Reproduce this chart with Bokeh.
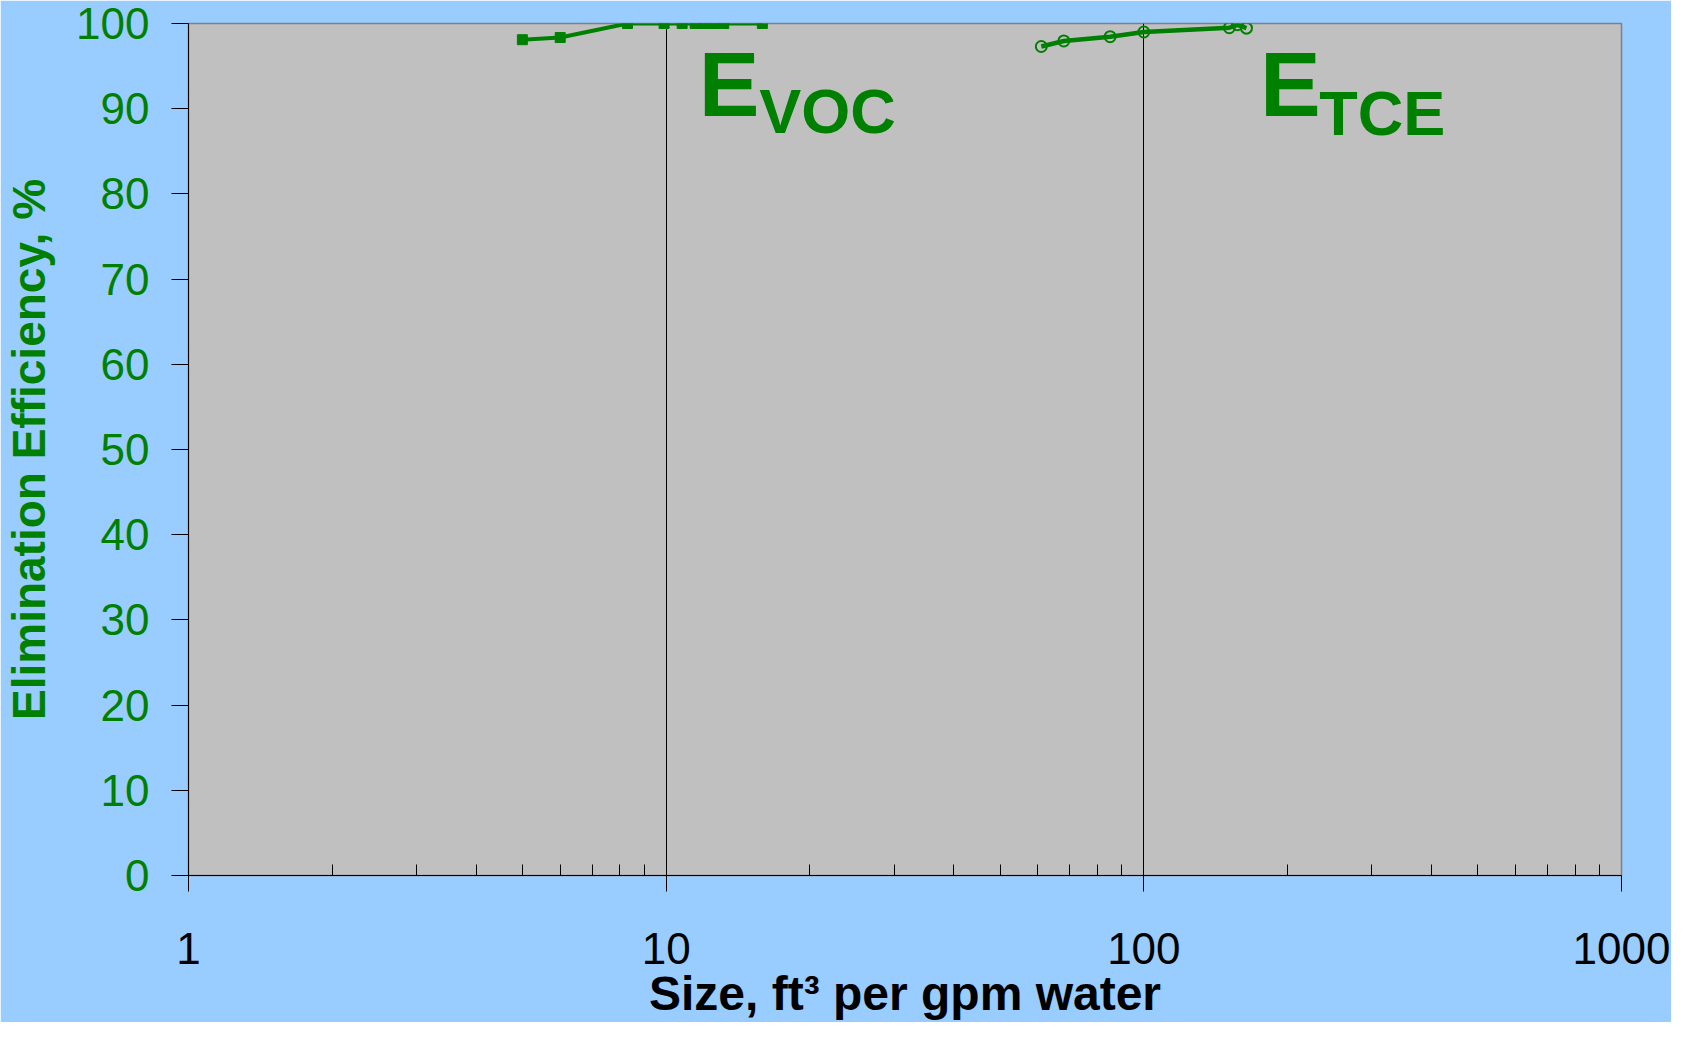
from bokeh.plotting import figure
from bokeh.models import FixedTicker, Label, Range1d, PrintfTickFormatter
from bokeh.embed import file_html
from bokeh.resources import INLINE

# ---- data ----
voc_size = [5.0, 6.0, 8.3, 9.9, 10.8, 11.5, 12.0, 12.6, 13.2, 15.9]
voc_eff = [98.1, 98.35, 100.0, 100.0, 100.0, 100.0, 100.0, 100.0, 100.0, 100.0]

tce_size = [61, 68, 85, 100, 151, 157, 164]
tce_eff = [97.3, 97.95, 98.45, 99.0, 99.5, 99.85, 99.45]

x_major = [1, 10, 100, 1000]
x_minor = [2, 3, 4, 5, 6, 7, 8, 9, 20, 30, 40, 50, 60, 70, 80, 90,
           200, 300, 400, 500, 600, 700, 800, 900]
x_grid = [10, 100]
y_ticks = [0, 10, 20, 30, 40, 50, 60, 70, 80, 90, 100]

GREEN = "#008000"
FONT = "Liberation Sans"

p = figure(width=1671, height=1022, x_axis_type="log",
           x_range=Range1d(1, 1000), y_range=Range1d(0, 100),
           output_backend="svg", toolbar_location=None,
           min_border_left=187, min_border_right=50,
           min_border_top=23, min_border_bottom=147)

p.background_fill_color = "#C0C0C0"
p.border_fill_color = "#99CCFF"
p.outline_line_color = "#808080"
p.outline_line_width = 1.5

# x axis
p.xaxis.ticker = FixedTicker(ticks=x_major, minor_ticks=x_minor)
p.xaxis.formatter = PrintfTickFormatter(format="%d")
p.xaxis.major_tick_in = 0
p.xaxis.major_tick_out = 16
p.xaxis.minor_tick_in = 11
p.xaxis.minor_tick_out = 0
p.xaxis.axis_line_color = "black"
p.xaxis.major_tick_line_color = "black"
p.xaxis.minor_tick_line_color = "black"
p.xaxis.major_label_text_font = FONT
p.xaxis.major_label_text_font_size = "44px"
p.xaxis.major_label_text_color = "black"
p.xaxis.major_label_standoff = 41
p.xaxis.axis_label = "Size, ft\u00b3 per gpm water"
p.xaxis.axis_label_text_font = FONT
p.xaxis.axis_label_text_font_style = "bold"
p.xaxis.axis_label_text_font_size = "48px"
p.xaxis.axis_label_text_color = "black"
p.xaxis.axis_label_standoff = 0

# y axis
p.yaxis.ticker = FixedTicker(ticks=y_ticks)
p.yaxis.major_tick_in = 0
p.yaxis.major_tick_out = 17
p.yaxis.minor_tick_line_color = None
p.yaxis.axis_line_color = "black"
p.yaxis.major_tick_line_color = "black"
p.yaxis.major_label_text_font = FONT
p.yaxis.major_label_text_font_size = "44px"
p.yaxis.major_label_text_color = GREEN
p.yaxis.major_label_standoff = 22
p.yaxis.axis_label = "Elimination Efficiency, %"
p.yaxis.axis_label_text_font = FONT
p.yaxis.axis_label_text_font_style = "bold"
p.yaxis.axis_label_text_font_size = "46px"
p.yaxis.axis_label_text_color = GREEN
p.yaxis.axis_label_standoff = 18

# grid
p.ygrid.grid_line_color = None
p.xgrid.ticker = FixedTicker(ticks=x_grid)
p.xgrid.grid_line_color = "black"
p.xgrid.grid_line_width = 1

# series
p.line(voc_size, voc_eff, line_color=GREEN, line_width=4)
p.scatter(voc_size, voc_eff, marker="square", size=10,
          fill_color=GREEN, line_color=GREEN)

p.line(tce_size, tce_eff, line_color=GREEN, line_width=4.5)
p.scatter(tce_size, tce_eff, marker="circle", size=11,
          fill_color=None, line_color=GREEN, line_width=2)

# annotations
def lab(x, y, text, size):
    p.add_layout(Label(x=x, y=y, text=text, text_font=FONT,
                       text_font_style="bold", text_font_size=size,
                       text_color=GREEN, text_align="left",
                       text_baseline="alphabetic"))

lab(11.70, 92.8, "E", "91px")
lab(15.67, 89.7, "VOC", "63px")
lab(175.0, 92.8, "E", "91px")
lab(233.0, 89.5, "TCE", "63px")

open("out.html", "w").write(file_html(p, INLINE))
